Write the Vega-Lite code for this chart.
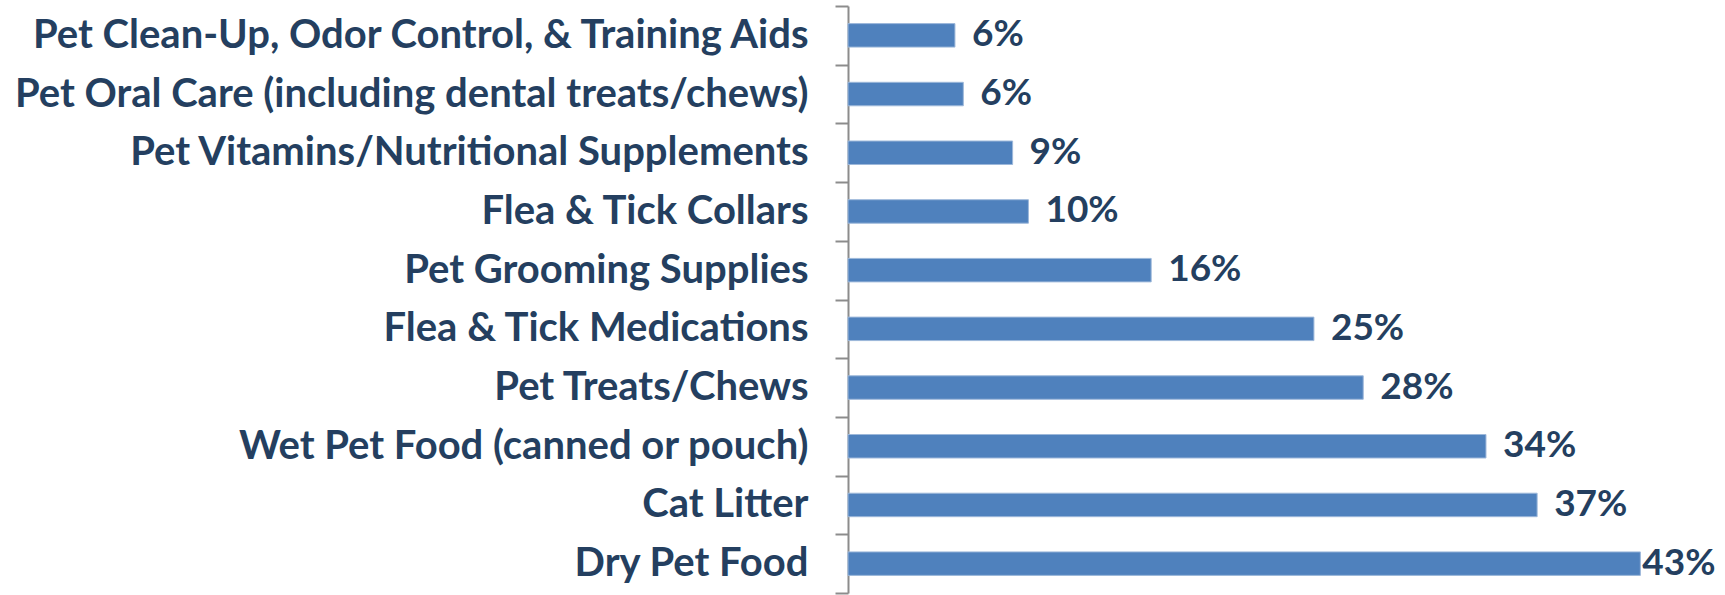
{
  "$schema": "https://vega.github.io/schema/vega-lite/v6.json",
  "autosize": {"type": "none"},
  "padding": {"left": 848, "top": 6, "right": 40, "bottom": 2},
  "width": 837,
  "height": 587,
  "background": "white",
  "config": {"view": {"stroke": null}},
  "data": {
    "values": [
      {"category": "Pet Clean-Up, Odor Control, & Training Aids", "value": 5.75, "label": "6%"},
      {"category": "Pet Oral Care (including dental treats/chews)", "value": 6.2, "label": "6%"},
      {"category": "Pet Vitamins/Nutritional Supplements", "value": 8.85, "label": "9%"},
      {"category": "Flea & Tick Collars", "value": 9.7, "label": "10%"},
      {"category": "Pet Grooming Supplies", "value": 16.3, "label": "16%"},
      {"category": "Flea & Tick Medications", "value": 25.05, "label": "25%"},
      {"category": "Pet Treats/Chews", "value": 27.7, "label": "28%"},
      {"category": "Wet Pet Food (canned or pouch)", "value": 34.3, "label": "34%"},
      {"category": "Cat Litter", "value": 37.05, "label": "37%"},
      {"category": "Dry Pet Food", "value": 42.6, "label": "43%"}
    ]
  },
  "encoding": {
    "y": {
      "field": "category",
      "type": "nominal",
      "sort": null,
      "scale": {"paddingInner": 0, "paddingOuter": 0},
      "axis": {
        "title": null,
        "tickBand": "extent",
        "domainColor": "#8c8c8c",
        "domainWidth": 2,
        "tickColor": "#8c8c8c",
        "tickWidth": 2,
        "tickSize": 13,
        "labelPadding": 27,
        "labelFont": "Lato",
        "labelFontWeight": "bold",
        "labelFontSize": 40,
        "labelColor": "#243F60",
        "labelLimit": 900
      }
    },
    "x": {
      "field": "value",
      "type": "quantitative",
      "scale": {"domain": [0, 45], "nice": false},
      "axis": null
    }
  },
  "layer": [
    {"mark": {"type": "bar", "color": "#4F81BD", "stroke": "#9DB8DA", "strokeWidth": 1, "height": {"band": 0.4}}},
    {
      "transform": [{"filter": "datum.value < 40"}],
      "mark": {"type": "text", "align": "left", "baseline": "middle", "dx": 17, "font": "Lato", "fontWeight": "bold", "fontSize": 37, "color": "#243F60"},
      "encoding": {"text": {"field": "label"}}
    },
    {
      "transform": [{"filter": "datum.value >= 40"}],
      "mark": {"type": "text", "align": "left", "baseline": "middle", "dx": 2, "font": "Lato", "fontWeight": "bold", "fontSize": 37, "color": "#243F60"},
      "encoding": {"text": {"field": "label"}}
    }
  ]
}
